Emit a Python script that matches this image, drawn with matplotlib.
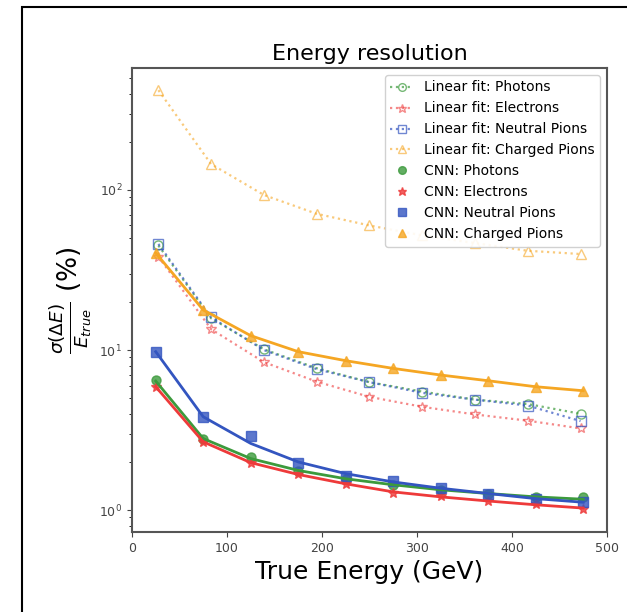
import matplotlib
matplotlib.use('Agg')
import matplotlib.pyplot as plt
from matplotlib.patches import Rectangle

# energy bins (GeV)
e_lin = [27.8, 83.3, 138.9, 194.4, 250.0, 305.6, 361.1, 416.7, 472.2]
e_cnn = [25, 75, 125, 175, 225, 275, 325, 375, 425, 475]

# linear fit resolution (%)
lin_photons = [45.0, 15.8, 10.1, 7.7, 6.3, 5.5, 4.9, 4.6, 4.0]
lin_electrons = [38.3, 13.5, 8.4, 6.35, 5.1, 4.42, 3.96, 3.62, 3.24]
lin_neutral = [46.0, 16.0, 10.0, 7.6, 6.3, 5.4, 4.9, 4.5, 3.6]
lin_charged = [420.0, 145.0, 93.0, 71.0, 60.0, 52.0, 46.6, 41.7, 39.8]

# CNN resolution (%)
cnn_photons = [6.49, 2.77, 2.15, 1.76, 1.56, 1.43, 1.33, 1.26, 1.2, 1.21]
cnn_electrons = [5.9, 2.67, 1.98, 1.68, 1.45, 1.28, 1.22, 1.14, 1.09, 1.02]
cnn_neutral = [9.77, 3.83, 2.9, 1.96, 1.63, 1.52, 1.37, 1.27, 1.18, 1.13]
cnn_charged = [40.4, 17.8, 12.3, 9.77, 8.58, 7.68, 6.98, 6.43, 5.9, 5.57]

# CNN fitted curves (%)
fit_photons = [6.4, 2.8, 2.1, 1.77, 1.57, 1.44, 1.34, 1.27, 1.21, 1.17]
fit_electrons = [5.9, 2.67, 1.98, 1.67, 1.46, 1.3, 1.21, 1.14, 1.08, 1.03]
fit_neutral = [9.77, 3.83, 2.61, 2.0, 1.69, 1.5, 1.37, 1.27, 1.18, 1.12]
fit_charged = [40.4, 17.8, 12.3, 9.77, 8.58, 7.68, 6.98, 6.43, 5.9, 5.57]

green = '#3c9a3c'
red = '#ee3a3a'
blue = '#3355c0'
orange = '#f5a623'

fig = plt.figure(figsize=(6.27, 6.12), dpi=100)
ax = fig.add_axes([0.2105, 0.1307, 0.7575, 0.7582])

ax.plot(e_lin, lin_photons, ':', color=green, marker='o', mfc='none', ms=6.5, lw=1.6, alpha=0.7, label='Linear fit: Photons')
ax.plot(e_lin, lin_electrons, ':', color=red, marker='*', mfc='none', ms=7.5, lw=1.6, alpha=0.6, label='Linear fit: Electrons')
ax.plot(e_lin, lin_neutral, ':', color=blue, marker='s', mfc='none', ms=6.5, lw=1.6, alpha=0.7, label='Linear fit: Neutral Pions')
ax.plot(e_lin, lin_charged, ':', color=orange, marker='^', mfc='none', ms=6.5, lw=1.6, alpha=0.6, label='Linear fit: Charged Pions')

ax.plot(e_cnn, cnn_photons, 'o', color=green, ms=6.5, alpha=0.8, ls='none', label='CNN: Photons')
ax.plot(e_cnn, cnn_electrons, '*', color=red, ms=7.5, alpha=0.8, ls='none', label='CNN: Electrons')
ax.plot(e_cnn, cnn_neutral, 's', color=blue, ms=6.5, alpha=0.8, ls='none', label='CNN: Neutral Pions')
ax.plot(e_cnn, cnn_charged, '^', color=orange, ms=6.5, alpha=0.8, ls='none', label='CNN: Charged Pions')

ax.plot(e_cnn, fit_photons, '-', color=green, lw=2)
ax.plot(e_cnn, fit_electrons, '-', color=red, lw=2)
ax.plot(e_cnn, fit_neutral, '-', color=blue, lw=2)
ax.plot(e_cnn, fit_charged, '-', color=orange, lw=2)

ax.set_yscale('log')
ax.set_xlim(0, 500)
ax.set_ylim(0.73, 578)
ax.set_title('Energy resolution', fontsize=16)
ax.set_xlabel('True Energy (GeV)', fontsize=18)
ax.set_ylabel(r'$\frac{\sigma(\Delta E)}{E_{true}}$ (%)', fontsize=19)
ax.tick_params(labelsize=9, colors='#444444')
for s in ax.spines.values():
    s.set_color('#555555')
    s.set_linewidth(1.5)
ax.legend(loc='upper right', fontsize=10, edgecolor='#cccccc', framealpha=0.9,
          handlelength=1.6, labelspacing=0.5, markerscale=0.85)

fig.patches.append(Rectangle((22 / 627, -0.1), 1.2, 1.1 - 7 / 612, transform=fig.transFigure,
                             fill=False, edgecolor='black', lw=1.5))

fig.savefig('out.png', dpi=100)
